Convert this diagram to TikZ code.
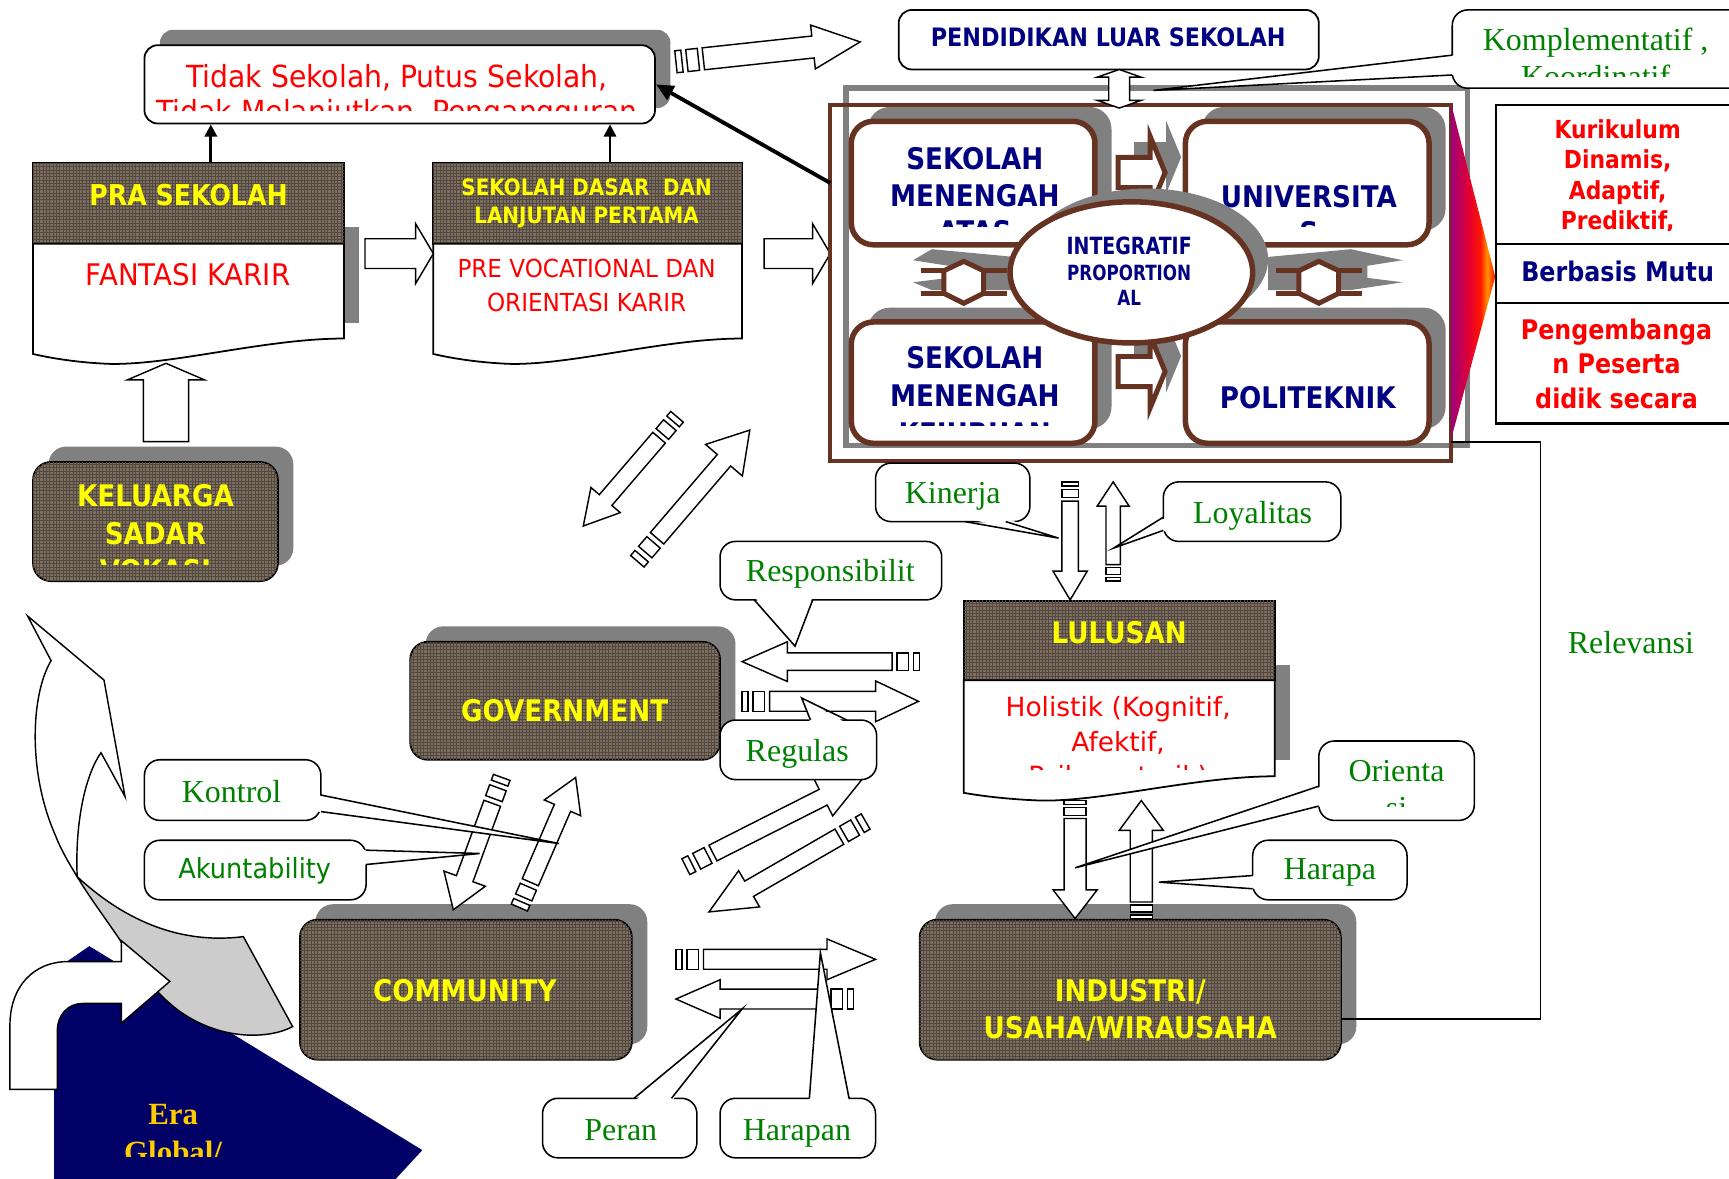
\documentclass[tikz,border=0pt]{standalone}
\usepackage{fontspec}
\usetikzlibrary{shapes.geometric,shadows,patterns,calc,arrows.meta}
\newfontfamily\sfR[FakeStretch=0.93]{DejaVu Sans}
\newfontfamily\sfRw{DejaVu Sans}
\newfontfamily\sfB[FakeStretch=0.88]{DejaVu Sans}
\newfontfamily\sfN[FakeStretch=0.8]{DejaVu Sans}
\newfontfamily\serf{Liberation Serif}
\newcommand\fz[1]{\fontsize{#1}{#1}\selectfont}
\definecolor{gr}{RGB}{0,128,0}
\definecolor{nv}{RGB}{0,0,128}
\definecolor{rd}{RGB}{255,0,0}
\definecolor{yl}{RGB}{255,255,0}
\definecolor{brn}{RGB}{102,51,34}
\definecolor{shd}{RGB}{128,128,128}
\definecolor{texc}{RGB}{124,111,97}
\definecolor{texl}{RGB}{82,72,62}
\definecolor{navybg}{RGB}{0,0,102}
\definecolor{gold}{RGB}{255,204,0}
\definecolor{g0}{RGB}{80,0,170}
\definecolor{g1}{RGB}{150,0,130}
\definecolor{g2}{RGB}{225,0,50}
\definecolor{g3}{RGB}{255,20,0}
\definecolor{g4}{RGB}{255,150,0}
\definecolor{g5}{RGB}{190,0,110}
\pgfdeclarehorizontalshading{tri}{100bp}{color(0bp)=(g0); color(22bp)=(g1); color(45bp)=(g2); color(58bp)=(g3); color(66bp)=(g4); color(74bp)=(g3); color(100bp)=(g5)}
% text line: name, x, baseline y, font, colour, text
\newcommand\tl[6]{\node[anchor=base,inner sep=0pt,font=#4,text=#5] (#1) at (#2,#3) {#6};}
% block arrow: [style] x y angle length shaft-hw head-hw head-len stripe-scale
\newcommand\barrow[9][arr]{%
 \begin{scope}[shift={(#2,#3)},rotate=#4]
 \pgfmathsetmacro\bst{25*#9}%
 \draw[#1] (\bst,-#6) -- ({#5-#8},-#6) -- ({#5-#8},-#7) -- (#5,0) -- ({#5-#8},#7) -- ({#5-#8},#6) -- (\bst,#6) -- cycle;
 \ifdim #9pt>0pt
 \draw[#1] (0,-#6) rectangle ({5.5*#9},#6);
 \draw[#1] ({10*#9},-#6) rectangle ({20.5*#9},#6);
 \fi
 \end{scope}}
% double arrow: [style] x y angle length shaft-hw head-hw head-len
\newcommand\dbl[8][arr]{%
 \begin{scope}[shift={(#2,#3)},rotate=#4]
 \draw[#1] (0,0) -- (#8,-#7) -- (#8,-#6) -- ({#5-#8},-#6) -- ({#5-#8},-#7) -- (#5,0) -- ({#5-#8},#7) -- ({#5-#8},#6) -- (#8,#6) -- (#8,#7) -- cycle;
 \end{scope}}
% callout pointer: base A, base B, tip, inward shift
\newcommand\ptr[4]{\fill[white] ($#1+#4$) -- #3 -- ($#2+#4$) -- cycle;
 \draw[line width=1.4pt,line join=miter] #1 -- #3 -- #2;}
% I-beam
\newcommand\ibeam[2]{%
 \begin{scope}[shift={(#1,#2)}]
 \draw[brn,line width=4.5pt] (-39,-10.5) -- (39,-10.5) (-39,10) -- (39,10);
 \draw[brn,line width=4.5pt,fill=white,line join=miter] (-18,-10.5) -- (0,-19) -- (18,-10.5) -- (18,10) -- (0,19) -- (-18,10) -- cycle;
 \end{scope}}
\begin{document}
\begin{tikzpicture}[x=1pt,y=-1pt,
 arr/.style={draw=black,line width=1.3pt,fill=white,line join=miter},
 brarr/.style={draw=brn,line width=4.5pt,fill=white,line join=miter},
 shdarr/.style={draw=none,fill=shd},
 tbox/.style={draw=black,line width=1.6pt,rounded corners=12pt,fill=white},
 cbox/.style={draw=black,line width=1.4pt,rounded corners=14pt,fill=white},
 shad/.style={drop shadow={shadow xshift=14pt,shadow yshift=14pt,opacity=1,fill=shd}},
 texs/.style={draw=black,line width=1.6pt,fill=texc,postaction={pattern=grid,pattern color=texl}},
 texbox/.style={texs,rounded corners=16pt,shad},
 sbox/.style={draw=brn,line width=5pt,rounded corners=20pt,fill=white,
   drop shadow={shadow xshift=15pt,shadow yshift=13pt,opacity=1,fill=shd}},
 blk/.style={line width=2.5pt,-{Triangle[length=11pt,width=11pt]}}]
\useasboundingbox (0,0) rectangle (1568,1069);
\fill[white] (0,0) rectangle (1568,1069);

% ---------- bottom left scene ----------
\fill[navybg] (49,1069) -- (49,880) -- (81,858) -- (383,1043) -- (359,1069) -- cycle;
\draw[line width=1.3pt,fill=gray!40] (70,795) .. controls (110,832) and (160,857) .. (220.7,849.4) -- (265.4,931) .. controls (245,942) and (200,945) .. (160,915) .. controls (135,895) and (120,872) .. (108.8,852.4) .. controls (95,832) and (80,812) .. (70,795) -- cycle;
\draw[line width=1.3pt,fill=white,line join=miter] (25,558.6) -- (94.3,616.7) -- (113.4,722.5) -- (91.6,682.6) .. controls (76,705) and (68,750) .. (70,795) .. controls (62,782) and (55,770) .. (50,757) .. controls (25,700) and (28,630) .. (46.3,599.1) -- cycle;
\draw[line width=1.3pt,fill=white,line join=miter] (9,988) -- (9,930) .. controls (9,895) and (30,872) .. (62,872) -- (110,872) -- (110,853) -- (154,890) -- (110,928) -- (110,910) -- (75,910) .. controls (62,910) and (52,920) .. (52,935) -- (52,988) -- cycle;
\tl{era1}{157}{1020}{\serf\bfseries\fz{28}}{gold}{Era}
\begin{scope}\clip (49,1025) rectangle (383,1049);
\tl{era2}{157}{1054}{\serf\bfseries\fz{28}}{gold}{Global/}
\end{scope}

% ---------- top left ----------
\node[tbox,shad,minimum width=463pt,minimum height=71pt] (tidak) at (362.5,76.5) {};
\tl{tidak1}{360}{79}{\sfR\fz{27.6}}{rd}{Tidak Sekolah, Putus Sekolah,}
\begin{scope}\clip (131,41) rectangle (594,100);
\tl{tidak2}{360}{111}{\sfR\fz{27.6}}{rd}{Tidak Melanjutkan, Pengangguran}
\end{scope}

% PRA SEKOLAH
\node[inner sep=0pt,minimum width=282pt,minimum height=182pt,anchor=north west] (pra) at (30,148) {};
\fill[shd] (312,206) rectangle (326,293);
\draw[texs] (30,148) rectangle (312,221);
\draw[line width=1.6pt,fill=white] (30,221) -- (312,221) -- (312,307) .. controls (241,307) and (157,331) .. (100,330) .. controls (72,329) and (47,325) .. (30,321) -- cycle;
\tl{praT}{171}{186}{\sfB\bfseries\fz{26}}{yl}{PRA SEKOLAH}
\tl{praB}{170.5}{258.5}{\sfR\fz{27}}{rd}{FANTASI KARIR}

% SD
\node[inner sep=0pt,minimum width=280pt,minimum height=182pt,anchor=north west] (sd) at (393,148) {};
\draw[texs] (393,148) rectangle (673,221);
\draw[line width=1.6pt,fill=white] (393,221) -- (673,221) -- (673,307) .. controls (603,307) and (519,331) .. (463,330) .. controls (435,329) and (410,325) .. (393,321) -- cycle;
\tl{sdT1}{532}{177}{\sfB\bfseries\fz{20.5}}{yl}{SEKOLAH DASAR \ DAN}
\tl{sdT2}{532}{203}{\sfB\bfseries\fz{20.5}}{yl}{LANJUTAN PERTAMA}
\tl{sdB1}{532}{252}{\sfR\fz{22.5}}{rd}{PRE VOCATIONAL DAN}
\tl{sdB2}{532}{282.6}{\sfR\fz{22.5}}{rd}{ORIENTASI KARIR}

\draw[blk] ([xshift=20pt]pra.north) -- ([xshift=20pt]pra.north |- tidak.south);
\draw[blk] ([xshift=20pt]sd.north) -- ([xshift=20pt]sd.north |- tidak.south);
\barrow{331}{230}{0}{62}{13.5}{27}{16}{0}
\barrow{693}{230}{0}{60}{13.5}{27}{16}{0}

% KELUARGA
\node[texbox,minimum width=222pt,minimum height=108pt] (kel) at (141,473) {};
\tl{kel1}{141}{459.5}{\sfB\bfseries\fz{27}}{yl}{KELUARGA}
\tl{kel2}{141}{494}{\sfB\bfseries\fz{27}}{yl}{SADAR}
\begin{scope}\clip (30,419) rectangle (252,512);
\tl{kel3}{141}{527}{\sfB\bfseries\fz{27}}{yl}{VOKASI}
\end{scope}
\barrow{150.5}{400.5}{90}{71}{20.5}{35}{15}{0}

% ---------- top right ----------
\node[tbox,minimum width=381pt,minimum height=54pt] (pls) at (1005.5,36) {};
\tl{plsT}{1005}{42}{\sfB\bfseries\fz{23}}{nv}{PENDIDIKAN LUAR SEKOLAH}
\barrow{613}{56}{6.15}{168}{10}{20}{43}{1}

\node[draw=shd,line width=5pt,minimum width=564pt,minimum height=324pt,inner sep=0pt] (gframe) at (1049,242) {};
\node[draw=brn,line width=3.5pt,minimum width=563pt,minimum height=323pt,inner sep=0pt] (bframe) at (1034.5,256.5) {};
\coordinate (bfL) at (753,166);
\draw[line width=3.5pt,-{Triangle[length=16pt,width=14pt]}] (bfL) -- (tidak.east);
\dbl{1015}{98}{90}{35}{9.5}{20}{7}

% school boxes
\node[sbox,minimum width=221pt,minimum height=112pt] (sma) at (882.5,166) {};
\node[sbox,minimum width=221pt,minimum height=112pt] (univ) at (1185.5,166) {};
\node[sbox,minimum width=221pt,minimum height=110pt] (smk) at (882.5,347) {};
\node[sbox,minimum width=221pt,minimum height=110pt] (poli) at (1185.5,347) {};
\tl{sma1}{884}{154}{\sfB\bfseries\fz{27}}{nv}{SEKOLAH}
\tl{sma2}{884}{187}{\sfB\bfseries\fz{27}}{nv}{MENENGAH}
\begin{scope}\clip (772,110) rectangle (993,205);
\tl{sma3}{884}{220}{\sfB\bfseries\fz{27}}{nv}{ATAS}
\end{scope}
\tl{univ1}{1187}{188}{\sfB\bfseries\fz{27}}{nv}{UNIVERSITA}
\begin{scope}\clip (1075,110) rectangle (1296,205);
\tl{univ2}{1187}{221}{\sfB\bfseries\fz{27}}{nv}{S}
\end{scope}
\tl{smk1}{884}{334}{\sfB\bfseries\fz{27}}{nv}{SEKOLAH}
\tl{smk2}{884}{369}{\sfB\bfseries\fz{27}}{nv}{MENENGAH}
\begin{scope}\clip (772,292) rectangle (993,386);
\tl{smk3}{884}{403}{\sfB\bfseries\fz{27}}{nv}{KEJURUAN}
\end{scope}
\tl{poli1}{1186}{370}{\sfB\bfseries\fz{27}}{nv}{POLITEKNIK}

% small arrows between schools
\barrow[shdarr]{1028.5}{142.5}{0}{42.6}{13.7}{33}{13.6}{0}
\barrow[brarr]{1014}{156.5}{0}{42.6}{13.7}{33}{13.6}{0}
\barrow[shdarr]{1028.5}{323}{0}{42.6}{13.7}{33}{13.6}{0}
\barrow[brarr]{1014}{337}{0}{42.6}{13.7}{33}{13.6}{0}
% I-beam shadows and I-beams
\fill[shd] (1150,233) -- (1225,226) -- (1272,236) -- (1240,241) -- (1240,252) -- (1272,256) -- (1225,263) -- (1150,263) -- cycle;
\fill[shd] (920,233) -- (845,226) -- (828,236) -- (860,241) -- (860,252) -- (828,256) -- (845,263) -- (920,263) -- cycle;
\ibeam{874}{256}
\ibeam{1196}{256}
% ellipse
\node[ellipse,draw=brn,line width=5pt,fill=white,minimum width=220pt,minimum height=128pt,inner sep=0pt,
  drop shadow={shadow xshift=14pt,shadow yshift=12pt,opacity=1,fill=shd}] (integ) at (1026,247) {};
\tl{int1}{1024}{230.4}{\sfN\bfseries\fz{21.5}}{nv}{INTEGRATIF}
\tl{int2}{1024}{254}{\sfN\bfseries\fz{19}}{nv}{PROPORTION}
\tl{int3}{1024}{277}{\sfN\bfseries\fz{19}}{nv}{AL}

% gradient triangle
\shade[shading=tri] (1316,94) -- (1356,251) -- (1316,398) -- cycle;

% right table
\node[draw,line width=2pt,fill=white,minimum width=244pt,minimum height=126pt,anchor=north west,inner sep=0pt] (kur) at (1356,94) {};
\node[draw,line width=2pt,fill=white,minimum width=244pt,minimum height=54pt,anchor=north west,inner sep=0pt] (mutu) at (1356,220) {};
\node[draw,line width=2pt,fill=white,minimum width=244pt,minimum height=109pt,anchor=north west,inner sep=0pt] (peng) at (1356,274) {};
\tl{kur1}{1467}{125.5}{\sfB\bfseries\fz{22.5}}{rd}{Kurikulum}
\tl{kur2}{1467}{153}{\sfB\bfseries\fz{22.5}}{rd}{Dinamis,}
\tl{kur3}{1467}{180.5}{\sfB\bfseries\fz{22.5}}{rd}{Adaptif,}
\begin{scope}\clip (1356,94) rectangle (1568,209);
\tl{kur4}{1467}{208}{\sfB\bfseries\fz{22.5}}{rd}{Prediktif,}
\end{scope}
\tl{mutu1}{1467}{255.5}{\sfB\bfseries\fz{24.5}}{nv}{Berbasis Mutu}
\tl{peng1}{1466}{308}{\sfB\bfseries\fz{24.5}}{rd}{Pengembanga}
\tl{peng2}{1466}{339}{\sfB\bfseries\fz{24.5}}{rd}{n Peserta}
\tl{peng3}{1466}{370}{\sfB\bfseries\fz{24.5}}{rd}{didik secara}

% Komplementatif callout
\node[cbox,minimum width=290pt,minimum height=71pt] (komp) at (1462,44.5) {};
\ptr{(1317,50)}{(1317,68)}{(1046,82)}{(3,0)}
\tl{komp1}{1447}{46}{\serf\fz{29}}{gr}{Komplementatif ,}
\begin{scope}\clip (1317,9) rectangle (1568,69);
\tl{komp2}{1447}{79}{\serf\fz{29}}{gr}{Koordinatif}
\end{scope}

% ---------- middle ----------
\node[inner sep=0pt,minimum width=282pt,minimum height=180pt,anchor=north west] (lul) at (874,545) {};
\fill[shd] (1156,603) rectangle (1170,689);
\draw[texs] (874,545) rectangle (1156,617);
\draw[line width=1.6pt,fill=white] (874,617) -- (1156,617) -- (1156,704) .. controls (1085,704) and (1000,727) .. (944,726) .. controls (916,725) and (891,722) .. (874,719) -- cycle;
\tl{lulT}{1015}{584}{\sfB\bfseries\fz{27}}{yl}{LULUSAN}
\tl{lul1}{1014}{650}{\sfRw\fz{24}}{rd}{Holistik (Kognitif,}
\tl{lul2}{1014}{681.6}{\sfRw\fz{24}}{rd}{Afektif,}
\begin{scope}\clip (874,617) rectangle (1156,698);
\tl{lul3}{1014}{712}{\sfRw\fz{24}}{rd}{Psikomotorik)}
\end{scope}

\node[texbox,minimum width=281pt,minimum height=107pt] (gov) at (512.5,635.5) {};
\tl{govT}{512}{654.5}{\sfB\bfseries\fz{27}}{yl}{GOVERNMENT}
\node[texbox,minimum width=301pt,minimum height=127pt] (comm) at (422.5,897.5) {};
\tl{commT}{421.5}{908}{\sfB\bfseries\fz{27}}{yl}{COMMUNITY}
\node[texbox,minimum width=382pt,minimum height=127pt] (ind) at (1025,897.5) {};
\tl{ind1}{1025}{908}{\sfB\bfseries\fz{27}}{yl}{INDUSTRI/}
\tl{ind2}{1025}{942}{\sfB\bfseries\fz{27}}{yl}{USAHA/WIRAUSAHA}

% relevansi connector
\coordinate (relA) at (1316,401);
\coordinate (relB) at (1397,401);
\draw[line width=1.5pt] (relA) -- (relB) |- ([yshift=-26.5pt]ind.east);
\tl{relev}{1479}{592.5}{\serf\fz{29}}{gr}{Relevansi}

% block arrows
\barrow{614}{378}{-130.65}{130.5}{7.5}{17.5}{31}{1}
\barrow{578}{509}{49.4}{156.7}{8}{22}{36}{1.1}
\barrow{455}{705}{-110.1}{127.8}{8}{20}{30}{1}
\barrow{471}{823}{66.6}{128.5}{8}{18}{30}{1}
\barrow{622}{786}{26.85}{181.6}{8}{19}{42}{1.1}
\barrow{785}{745}{-150}{164}{8}{19}{42}{1.1}
\barrow{834}{600}{180}{161}{8}{18}{41}{1}
\barrow{673}{636}{0}{160}{9}{18.5}{39}{1}
\barrow{613}{870}{0}{181}{9}{18.5}{44}{1}
\barrow{774}{906}{180}{161}{9}{17.5}{40}{1}
\barrow{970.5}{437}{-90}{107}{7.5}{15.5}{26}{0.7}
\barrow{1009.5}{527}{90}{90}{6.5}{14.5}{22}{0.6}
\barrow{975}{726}{-90}{107}{10}{20}{26}{0.65}
\barrow{1035}{833}{90}{107}{10}{20}{27}{0.6}

% callouts
\node[cbox,minimum width=140pt,minimum height=53pt] (kin) at (864,446.5) {};
\ptr{(875,473)}{(912,473)}{(960,488)}{(0,-3)}
\tl{kinT}{864}{456.5}{\serf\fz{29}}{gr}{Kinerja}

\node[cbox,minimum width=161pt,minimum height=54pt] (loy) at (1135.5,464) {};
\ptr{(1055,469)}{(1055,481)}{(1010,497)}{(3,0)}
\tl{loyT}{1136}{474.6}{\serf\fz{29}}{gr}{Loyalitas}

\node[cbox,minimum width=201pt,minimum height=53pt] (resp) at (753.5,517.5) {};
\ptr{(684,544)}{(737,544)}{(721,586)}{(0,-3)}
\tl{respT}{753}{527.5}{\serf\fz{29}}{gr}{Responsibilit}

\node[cbox,minimum width=142pt,minimum height=54pt] (reg) at (724,680) {};
\ptr{(735,653)}{(768,653)}{(727,633)}{(0,3)}
\tl{regT}{723}{690.7}{\serf\fz{29}}{gr}{Regulas}

\node[cbox,minimum width=160pt,minimum height=55pt] (kon) at (211,716.5) {};
\ptr{(291,721)}{(291,736)}{(507,765)}{(-3,0)}
\tl{konT}{210}{727.6}{\serf\fz{29}}{gr}{Kontrol}

\node[cbox,minimum width=201pt,minimum height=54pt] (ak) at (231.5,789) {};
\ptr{(332,771)}{(332,784)}{(435,774)}{(-3,0)}
\tl{akT}{231}{797}{\sfR\fz{25}}{gr}{Akuntability}

\node[cbox,minimum width=141pt,minimum height=72pt] (ori) at (1266.5,708) {};
\ptr{(1196,713)}{(1196,731)}{(975,787)}{(3,0)}
\tl{ori1}{1266.5}{709}{\serf\fz{29}}{gr}{Orienta}
\begin{scope}\clip (1196,672) rectangle (1337,731);
\tl{ori2}{1266.5}{742}{\serf\fz{29}}{gr}{si}
\end{scope}

\node[cbox,minimum width=140pt,minimum height=54pt] (hara) at (1206,789) {};
\ptr{(1136,794)}{(1136,806)}{(1051,800)}{(3,0)}
\tl{haraT}{1206}{798}{\serf\fz{29}}{gr}{Harapa}

\node[cbox,minimum width=140pt,minimum height=54pt] (per) at (562,1023) {};
\ptr{(575,996)}{(609,996)}{(673,915)}{(0,3)}
\tl{perT}{563}{1034}{\serf\fz{29}}{gr}{Peran}

\node[cbox,minimum width=141pt,minimum height=54pt] (harn) at (723.5,1023) {};
\ptr{(734,996)}{(770,996)}{(744,864)}{(0,3)}
\tl{harnT}{722.7}{1034}{\serf\fz{29}}{gr}{Harapan}
\end{tikzpicture}
\end{document}
